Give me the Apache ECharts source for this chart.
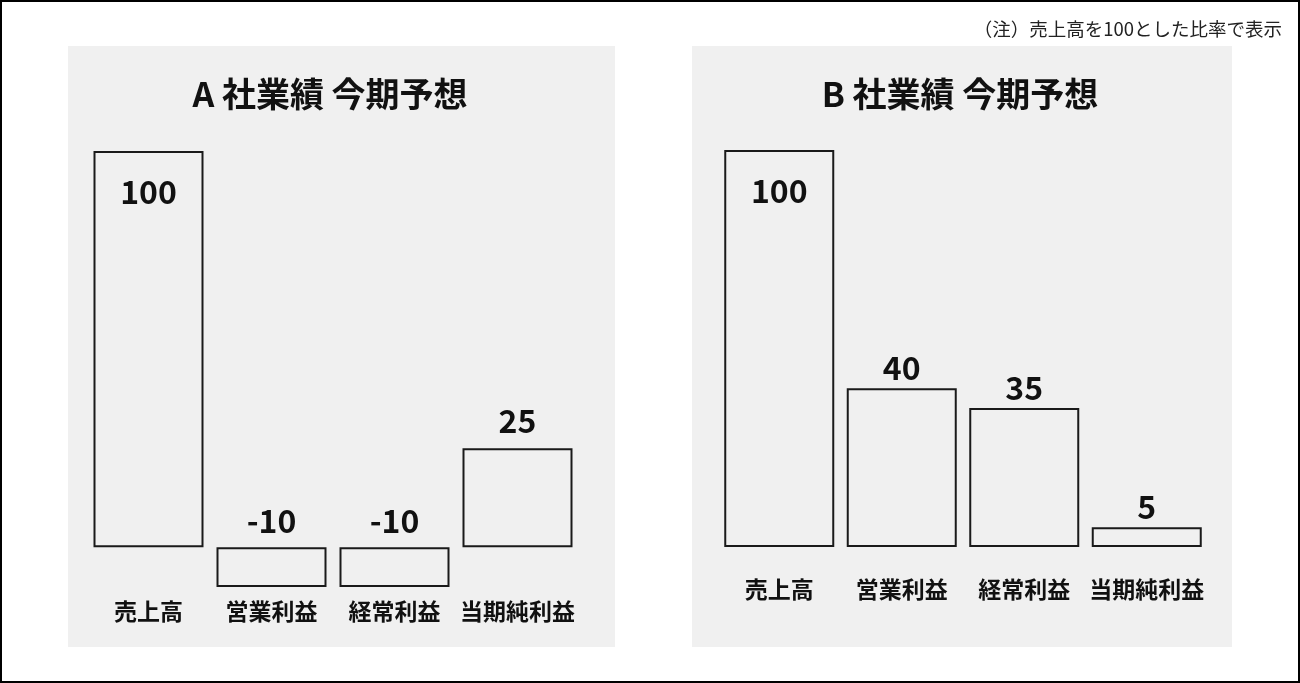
<!DOCTYPE html>
<html>
<head>
<meta charset="utf-8">
<script src="https://cdn.jsdelivr.net/npm/echarts@6/dist/echarts.min.js"></script>
<style>
  html, body { margin: 0; padding: 0; background: #fff; }
  #chart { width: 1300px; height: 683px; box-sizing: border-box; border: 2px solid #000; }
</style>
</head>
<body>
<div id="chart"></div>
<script>
var categories = ["売上高", "営業利益", "経常利益", "当期純利益"];
var valuesA = [100, -10, -10, 25];
var valuesB = [100, 40, 35, 5];
var titleA = "A 社業績 今期予想";
var titleB = "B 社業績 今期予想";
var note = "（注）売上高を100とした比率で表示";

var font = "'Noto Sans CJK JP', 'Noto Sans', sans-serif";
var panelColor = "#f0f0f0";

var myChart = echarts.init(document.getElementById("chart"));

function barData(values) {
  var out = [];
  for (var i = 0; i < values.length; i++) {
    var item = { value: values[i] };
    // the full-height bar carries its label inside
    if (values[i] >= 100) {
      item.label = { position: "insideTop", distance: 25 };
    }
    out.push(item);
  }
  return out;
}

function xAxis(idx, margin) {
  return {
    type: "category",
    gridIndex: idx,
    data: categories,
    axisLine: { show: false },
    axisTick: { show: false },
    axisLabel: {
      interval: 0,
      margin: margin,
      color: "#111",
      fontFamily: font,
      fontWeight: "bold",
      fontSize: 23
    }
  };
}

function yAxis(idx, min) {
  return {
    type: "value",
    gridIndex: idx,
    min: min,
    max: 100,
    show: false,
    splitLine: { show: false }
  };
}

function series(idx, values, dist) {
  return {
    type: "bar",
    xAxisIndex: idx,
    yAxisIndex: idx,
    data: barData(values),
    barWidth: 110,
    silent: true,
    itemStyle: { color: panelColor, borderColor: "#1a1a1a", borderWidth: 2 },
    label: {
      show: true,
      position: "top",
      distance: dist,
      color: "#111",
      fontFamily: font,
      fontWeight: "bold",
      fontSize: 32
    }
  };
}

var option = {
  animation: false,
  backgroundColor: "#fff",
  graphic: [
    { type: "rect", z: -10, shape: { x: 66, y: 44, width: 547, height: 601 }, style: { fill: panelColor } },
    { type: "rect", z: -10, shape: { x: 690, y: 44, width: 540, height: 601 }, style: { fill: panelColor } },
    {
      type: "text", right: 16, top: 18,
      style: { text: note, fill: "#222", font: "18.5px " + font }
    }
  ],
  title: [
    {
      text: titleA, left: 323, top: 70, textAlign: "center",
      textStyle: { fontFamily: font, fontWeight: "bold", fontSize: 34, color: "#111" }
    },
    {
      text: titleB, left: 953, top: 70, textAlign: "center",
      textStyle: { fontFamily: font, fontWeight: "bold", fontSize: 34, color: "#111" }
    }
  ],
  grid: [
    { left: 85, width: 492, top: 149, height: 436 },
    { left: 716, width: 490, top: 148, height: 397 }
  ],
  xAxis: [xAxis(0, 13), xAxis(1, 31)],
  yAxis: [yAxis(0, -10), yAxis(1, 0)],
  series: [series(0, valuesA, 11), series(1, valuesB, 4)]
};

myChart.setOption(option);
</script>
</body>
</html>
